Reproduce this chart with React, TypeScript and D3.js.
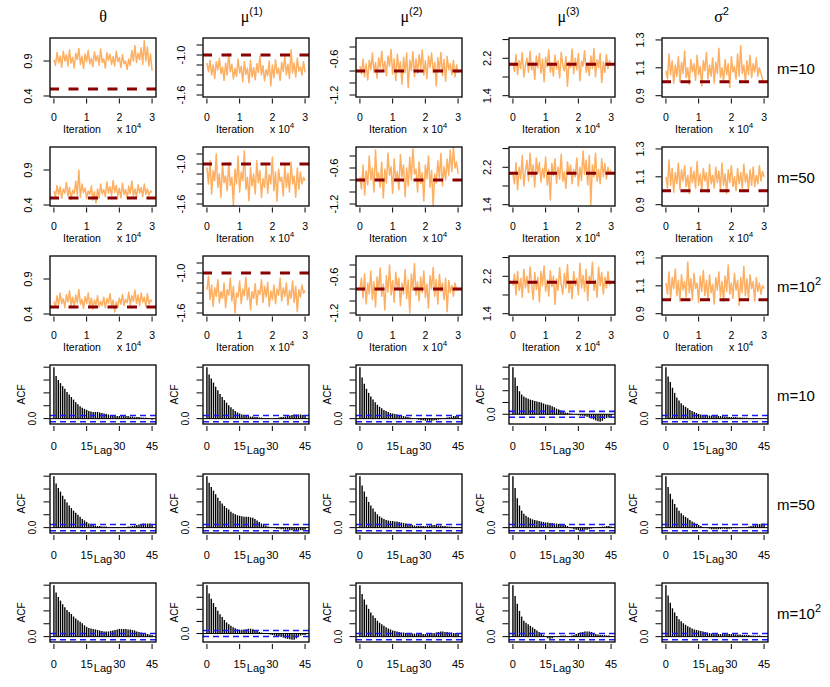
import React from "react";
import * as d3 from "d3";

// ---------- labels ----------
const paramSymbols = ["θ", "μ", "μ", "μ", "σ"];
const paramSups = ["", "(1)", "(2)", "(3)", "2"];
const rowMLabels = ["m=10", "m=50", "m=10", "m=10", "m=50", "m=10"];
const rowMSups = ["", "", "2", "", "", "2"];

// ---------- trace settings ----------
const nIter = 30000;
const iterTicks = [0, 10000, 20000, 30000];
const iterTickLabels = ["0", "1", "2", "3"];
const trueValues = [0.5, -1.0, -0.8, 2.07, 1.0];
const traceYDomains = [
  [0.3857, 1.2286],
  [-1.63, -0.745],
  [-1.233, -0.25],
  [1.372, 2.634],
  [0.8907, 1.314],
];
const traceYTicks = [
  [0.4, 0.9],
  [-1.6, -1.45, -1.3, -1.15, -1.0, -0.85],
  [-1.2, -1.0, -0.8, -0.6, -0.4],
  [1.4, 1.8, 2.2, 2.6],
  [0.9, 1.1, 1.3],
];
const traceYLabels = [
  [0.4, 0.9],
  [-1.6, -1.0],
  [-1.2, -0.6],
  [1.4, 2.2],
  [0.9, 1.1, 1.3],
];

// ---------- trace values (thinned chains) ----------
const thetaM10 = [0.92,0.84,1.02,0.88,0.97,0.81,1.04,0.9,0.99,0.83,1.06,0.87,0.95,0.8,1.01,0.92,1.08,0.85,0.97,0.79,1.0,0.89,1.05,0.86,0.94,0.82,1.03,0.9,0.98,0.84,1.07,0.88,0.93,0.8,1.02,0.91,1.0,0.85,0.96,0.83,1.04,0.89,0.95,0.81,0.99,0.86,0.9,0.78,0.93,0.84,1.05,0.9,1.12,0.88,1.01,0.92,1.09,0.85,1.19,0.9,1.1,0.83,1.0,0.76];
const mu1M10 = [-1.12,-1.25,-1.08,-1.3,-1.15,-1.35,-1.1,-1.22,-1.05,-1.28,-1.18,-1.38,-1.12,-1.3,-0.98,-1.25,-1.14,-1.36,-1.2,-1.32,-1.06,-1.27,-1.17,-1.4,-1.1,-1.29,-1.2,-1.42,-1.08,-1.33,-1.19,-1.37,-1.13,-1.26,-1.02,-1.3,-1.16,-1.39,-1.22,-1.31,-1.09,-1.46,-1.15,-1.34,-1.07,-1.28,-1.2,-1.38,-1.11,-1.25,-1.01,-1.3,-1.14,-1.35,-0.92,-1.27,-1.12,-1.33,-1.05,-1.24,-1.18,-1.3,-1.1,-1.26];
const mu2M10 = [-0.72,-0.85,-0.6,-0.9,-0.68,-0.95,-0.62,-0.78,-0.5,-0.82,-0.66,-0.92,-0.58,-0.75,-0.47,-0.8,-0.64,-0.88,-0.55,-0.72,-0.44,-0.85,-0.6,-0.96,-0.52,-0.78,-0.65,-1.02,-0.57,-0.83,-0.5,-1.08,-0.62,-0.79,-0.48,-0.9,-0.6,-0.84,-0.53,-0.76,-0.45,-0.87,-0.63,-0.93,-0.55,-0.74,-0.5,-0.82,-0.66,-1.05,-0.58,-0.8,-0.49,-0.88,-0.61,-0.97,-0.56,-0.78,-0.68,-0.86,-0.62,-0.9,-0.7,-0.83];
const mu3M10 = [2.1,1.92,2.28,1.85,2.15,1.98,2.32,1.8,2.05,2.2,1.9,2.35,1.95,2.12,1.75,2.25,2.0,2.3,1.88,2.18,1.7,2.22,2.02,2.38,1.9,2.1,1.82,2.27,1.97,2.15,1.78,2.33,2.05,1.93,2.24,1.6,2.12,2.0,2.4,1.87,2.2,1.95,2.3,1.72,2.14,2.03,2.36,1.9,2.1,1.83,2.25,1.98,2.41,1.8,2.17,2.0,2.3,1.68,2.12,1.9,2.28,1.98,2.15,2.05];
const sigma2M10 = [1.08,1.02,1.2,1.05,1.15,0.99,1.12,1.04,1.18,1.0,1.14,1.06,1.22,1.03,1.1,0.98,1.16,1.07,1.13,1.01,1.19,1.05,1.11,0.97,1.15,1.08,1.21,1.02,1.12,1.04,1.17,0.99,1.14,1.06,1.24,1.03,1.1,1.0,1.16,1.05,1.13,0.96,1.18,1.07,1.11,1.02,1.2,1.04,1.26,1.06,1.12,1.0,1.15,1.05,1.19,1.03,1.13,1.07,1.17,1.04,1.1,1.06,1.02,0.99];

const thetaM50 = [0.6,0.52,0.68,0.55,0.66,0.5,0.63,0.57,0.72,0.53,0.65,0.48,0.61,0.56,0.74,0.54,0.9,0.51,0.7,0.58,0.64,0.49,0.6,0.55,0.67,0.47,0.59,0.43,0.63,0.5,0.7,0.56,0.62,0.52,0.73,0.57,0.66,0.54,0.75,0.58,0.68,0.53,0.64,0.5,0.71,0.55,0.62,0.49,0.67,0.56,0.74,0.53,0.63,0.51,0.69,0.57,0.65,0.52,0.7,0.55,0.63,0.54,0.6,0.58];
const mu1M50 = [-1.05,-1.3,-0.95,-1.45,-1.1,-1.25,-0.85,-1.35,-1.15,-1.5,-1.0,-1.28,-1.18,-1.4,-0.98,-1.32,-1.2,-1.62,-1.08,-1.3,-0.88,-1.42,-1.12,-1.25,-0.8,-1.38,-1.2,-1.55,-1.05,-1.33,-1.15,-1.45,-0.95,-1.28,-1.1,-1.5,-1.22,-1.35,-1.02,-1.44,-1.16,-1.3,-0.9,-1.4,-1.12,-1.56,-1.08,-1.26,-1.2,-1.48,-1.0,-1.35,-1.14,-1.42,-0.97,-1.3,-1.18,-1.5,-1.06,-1.38,-1.12,-1.3,-1.2,-1.25];
const mu2M50 = [-0.75,-0.95,-0.55,-1.05,-0.65,-0.88,-0.4,-0.8,-0.6,-1.0,-0.3,-0.78,-0.68,-0.92,-0.5,-1.1,-0.62,-0.85,-0.35,-0.72,-0.58,-1.02,-0.45,-0.82,-0.66,-0.96,-0.38,-0.75,-0.55,-1.08,-0.6,-0.9,-0.42,-0.8,-0.28,-0.7,-0.62,-1.0,-0.5,-0.86,-0.68,-1.15,-0.55,-0.78,-0.4,-0.92,-0.64,-1.22,-0.7,-0.85,-0.48,-0.76,-0.36,-0.9,-0.58,-0.8,-0.45,-0.72,-0.3,-0.66,-0.26,-0.6,-0.5,-0.7];
const mu3M50 = [2.05,1.85,2.3,1.72,2.2,1.95,2.45,1.8,2.12,2.35,1.9,2.5,2.0,2.25,1.78,2.4,2.08,2.3,1.88,2.18,1.98,2.42,1.82,2.15,1.5,2.28,2.02,2.38,1.86,2.2,1.95,2.48,1.9,2.1,1.75,2.32,2.05,2.25,1.85,2.15,2.0,2.4,1.8,2.2,1.92,2.55,2.05,2.35,1.82,2.45,1.4,2.25,2.0,2.5,1.9,2.15,1.85,2.38,2.0,2.28,1.95,2.2,2.05,2.15];
const sigma2M50 = [1.1,1.02,1.22,1.04,1.16,0.99,1.13,1.05,1.2,1.01,1.15,1.07,1.18,1.03,1.11,0.98,1.17,1.06,1.14,1.02,1.21,1.04,1.12,1.0,1.16,1.07,1.13,0.99,1.19,1.05,1.11,1.02,1.17,1.06,1.14,1.01,1.2,1.04,1.12,0.98,1.15,1.06,1.18,1.03,1.1,1.0,1.16,1.05,1.13,1.02,1.19,1.06,1.12,1.01,1.15,1.04,1.17,1.03,1.11,1.05,1.18,1.07,1.14,1.1];

const thetaM100 = [0.58,0.5,0.66,0.53,0.7,0.55,0.62,0.49,0.68,0.57,0.73,0.52,0.64,0.5,0.67,0.56,0.75,0.54,0.61,0.48,0.65,0.55,0.7,0.51,0.63,0.47,0.6,0.53,0.66,0.5,0.58,0.52,0.64,0.49,0.62,0.55,0.69,0.51,0.6,0.43,0.57,0.5,0.63,0.54,0.68,0.52,0.61,0.56,0.71,0.53,0.66,0.58,0.74,0.55,0.67,0.52,0.7,0.57,0.64,0.51,0.69,0.54,0.6,0.58];
const mu1M100 = [-1.25,-1.05,-1.4,-1.18,-1.5,-1.22,-1.35,-1.1,-1.45,-1.28,-1.38,-1.15,-1.52,-1.25,-1.33,-1.08,-1.42,-1.2,-1.6,-1.3,-1.36,-1.12,-1.46,-1.24,-1.34,-1.06,-1.4,-1.22,-1.55,-1.28,-1.38,-1.16,-1.48,-1.26,-1.32,-1.1,-1.44,-1.2,-1.36,-1.14,-1.5,-1.27,-1.4,-1.18,-1.46,-1.24,-1.33,-1.08,-1.42,-1.22,-1.35,-1.15,-1.48,-1.26,-1.38,-1.12,-1.44,-1.2,-1.58,-1.25,-1.36,-1.18,-1.3,-1.26];
const mu2M100 = [-0.8,-0.62,-0.95,-0.55,-1.05,-0.7,-0.88,-0.5,-0.98,-0.68,-1.1,-0.6,-0.82,-0.45,-0.92,-0.72,-1.15,-0.58,-0.85,-0.4,-0.9,-0.66,-1.02,-0.52,-0.78,-0.62,-1.08,-0.7,-0.88,-0.48,-0.96,-0.65,-1.2,-0.55,-0.82,-0.38,-0.9,-0.68,-1.0,-0.6,-0.86,-0.5,-0.94,-0.72,-1.12,-0.58,-0.8,-0.44,-0.92,-0.64,-1.05,-0.56,-0.84,-0.7,-0.98,-0.62,-1.18,-0.66,-0.86,-0.74,-0.92,-0.7,-0.82,-0.78];
const mu3M100 = [2.0,2.25,1.8,2.3,1.9,2.15,1.75,2.35,1.95,2.2,1.85,2.4,2.05,1.7,2.28,1.92,2.18,1.65,2.3,2.0,2.42,1.88,2.12,1.78,2.32,1.98,2.2,1.6,2.15,1.9,2.38,2.02,1.82,2.26,1.95,2.45,1.85,2.1,1.72,2.3,2.0,2.15,1.8,2.48,1.95,2.22,1.88,2.35,1.68,2.2,2.05,2.5,1.9,2.12,1.75,2.4,2.0,2.28,1.82,2.18,1.95,2.3,2.02,2.1];
const sigma2M100 = [1.12,1.04,1.2,1.0,1.16,1.08,1.22,1.03,1.14,0.99,1.18,1.07,1.13,1.02,1.27,1.05,1.15,1.0,1.19,1.08,1.12,0.98,1.17,1.06,1.21,1.03,1.14,1.0,1.18,1.05,1.11,0.97,1.16,1.07,1.2,1.02,1.13,0.99,1.17,1.06,1.25,1.04,1.12,1.01,1.19,1.07,1.14,0.96,1.16,1.05,1.24,1.03,1.15,1.0,1.18,1.08,1.13,0.99,1.16,1.06,1.12,1.04,1.1,1.08];

const traceRows = [
  [thetaM10, mu1M10, mu2M10, mu3M10, sigma2M10],
  [thetaM50, mu1M50, mu2M50, mu3M50, sigma2M50],
  [thetaM100, mu1M100, mu2M100, mu3M100, sigma2M100],
];

// ---------- ACF values (lags 0..45) ----------
const lagTicks = [0, 15, 30, 45];
const acfYTicks = [0, 0.25, 0.5, 0.75, 1];
const ciBound = 0.062;

const acfThetaM10 = [1,.83,.75,.69,.63,.58,.52,.47,.42,.37,.32,.28,.24,.21,.19,.17,.15,.14,.13,.13,.13,.12,.11,.1,.09,.08,.07,.06,.06,.05,.05,.05,.05,.05,.05,.04,.04,.03,.03,.03,.02,.02,.02,.01,0,-.02];
const acfMu1M10 = [1,.86,.78,.7,.62,.55,.48,.42,.36,.31,.26,.22,.18,.15,.12,.1,.08,.07,.06,.05,.04,.04,.03,.03,.02,.02,.01,.01,.01,0,0,.01,.01,.02,.03,.03,.04,.05,.06,.07,.08,.08,.08,.08,.07,.06];
const acfMu2M10 = [1,.8,.68,.58,.5,.43,.37,.32,.27,.23,.2,.17,.15,.13,.11,.1,.09,.08,.07,.06,.05,.04,.03,.02,.01,0,-.01,-.02,-.03,-.03,-.04,-.04,-.04,-.04,-.03,-.03,-.02,-.01,0,.01,.02,.03,.04,.05,.05,.05];
const acfMu3M10 = [1,.78,.6,.49,.42,.38,.35,.33,.31,.3,.28,.27,.26,.25,.23,.21,.2,.19,.17,.15,.12,.1,.08,.06,.04,.03,.02,.01,0,-.01,-.02,-.03,-.03,-.04,-.05,-.07,-.09,-.11,-.13,-.15,-.16,-.14,-.1,-.08,-.07,-.08];
const acfSigma2M10 = [1,.82,.71,.6,.5,.41,.35,.3,.26,.23,.2,.17,.15,.13,.11,.09,.08,.07,.07,.06,.06,.06,.06,.06,.05,.05,.05,.04,.04,.03,.03,.03,.03,.02,.02,.02,.02,.02,.01,.01,.01,.01,.01,0,0,0];

const acfThetaM50 = [1,.86,.77,.7,.62,.55,.49,.43,.38,.33,.29,.25,.21,.17,.14,.11,.08,.06,.05,.04,.03,.03,.02,.02,.02,.01,.01,.01,.01,.01,.01,.01,.01,.01,.02,.02,.03,.04,.05,.06,.07,.08,.08,.08,.08,.07];
const acfMu1M50 = [1,.87,.79,.72,.65,.58,.52,.47,.42,.38,.35,.31,.28,.26,.24,.23,.22,.21,.21,.21,.2,.19,.17,.14,.11,.08,.06,.04,.02,.01,0,-.01,-.02,-.02,-.03,-.03,-.04,-.04,-.05,-.05,-.06,-.06,-.05,-.05,-.05,-.04];
const acfMu2M50 = [1,.82,.7,.6,.5,.43,.37,.31,.26,.22,.19,.17,.15,.14,.13,.13,.12,.12,.11,.1,.09,.08,.07,.06,.05,.04,.03,.03,.03,.03,.03,.04,.04,.05,.05,.05,.04,.04,.03,.03,.02,.02,.02,.01,.01,.01];
const acfMu3M50 = [1,.77,.57,.43,.33,.27,.23,.2,.18,.16,.15,.14,.13,.12,.11,.1,.1,.09,.09,.08,.08,.07,.07,.06,.05,.03,.01,-.01,-.03,-.04,-.05,-.05,-.05,-.04,-.04,-.03,-.02,-.01,0,.01,.01,.02,.02,.03,.03,.02];
const acfSigma2M50 = [1,.79,.66,.55,.46,.39,.33,.28,.24,.21,.18,.15,.12,.1,.07,.05,.03,.01,0,-.01,-.02,-.03,-.03,-.03,-.03,-.03,-.02,-.02,-.03,-.02,-.02,-.01,-.01,-.01,0,0,0,.01,.02,.03,.04,.05,.06,.07,.08,.08];

const acfThetaM100 = [1,.86,.77,.7,.63,.57,.52,.48,.44,.39,.35,.32,.29,.26,.22,.19,.17,.16,.15,.14,.13,.12,.11,.1,.1,.1,.11,.12,.13,.14,.15,.15,.15,.15,.14,.14,.13,.12,.1,.09,.08,.07,.06,.05,.04,.03];
const acfMu1M100 = [1,.83,.72,.63,.55,.47,.4,.34,.28,.23,.19,.16,.13,.11,.09,.08,.08,.08,.09,.1,.1,.09,.07,.05,.03,.02,.01,0,-.01,-.02,-.03,-.04,-.05,-.06,-.07,-.08,-.1,-.11,-.12,-.13,-.13,-.1,-.06,-.04,-.03,-.03];
const acfMu2M100 = [1,.83,.72,.62,.54,.47,.41,.36,.31,.27,.24,.21,.18,.16,.14,.12,.11,.1,.09,.08,.08,.07,.07,.06,.06,.06,.05,.05,.05,.05,.05,.06,.06,.07,.07,.08,.09,.1,.1,.09,.09,.08,.08,.07,.07,.06];
const acfMu3M100 = [1,.79,.64,.5,.39,.31,.27,.24,.21,.18,.15,.12,.09,.06,.03,0,-.03,-.04,-.03,-.01,0,.01,.02,.02,.02,.01,.01,.02,.03,.05,.07,.08,.09,.1,.1,.1,.09,.07,.05,.04,.03,.03,.03,.02,.02,.01];
const acfSigma2M100 = [1,.8,.66,.55,.47,.4,.34,.3,.26,.23,.2,.18,.16,.14,.13,.12,.11,.1,.09,.08,.07,.06,.06,.05,.05,.05,.05,.05,.05,.05,.05,.05,.04,.04,.04,.03,.03,.03,.03,.02,.02,.02,.02,.02,.01,.01];

const acfRows = [
  [acfThetaM10, acfMu1M10, acfMu2M10, acfMu3M10, acfSigma2M10],
  [acfThetaM50, acfMu1M50, acfMu2M50, acfMu3M50, acfSigma2M50],
  [acfThetaM100, acfMu1M100, acfMu2M100, acfMu3M100, acfSigma2M100],
];

// ---------- layout ----------
const W = 830;
const H = 687;
const colLeft = [50, 203, 356, 509, 662];
const rowTop = [38, 147, 256, 365, 474, 583];
const boxW = 106;
const boxH = 59;
const titleX = [103, 251.7, 411.5, 568.5, 721.5];
const sans = "'Liberation Sans', Arial, Helvetica, sans-serif";
const greek = "'Liberation Serif', 'DejaVu Serif', serif";
const traceColor = "#FDAF62";
const trueColor = "#8B0000";
const ciColor = "#1a1aff";

const fmt1 = (v: number) => v.toFixed(1);

function TracePanel({ r, c }: { r: number; c: number }) {
  const x0 = colLeft[c];
  const y0 = rowTop[r];
  const data = traceRows[r][c];
  const span = nIter - 1;
  const x = d3.scaleLinear().domain([1 - 0.04 * span, nIter + 0.04 * span]).range([x0, x0 + boxW]);
  const y = d3.scaleLinear().domain(traceYDomains[c]).range([y0 + boxH, y0]);
  const n = data.length;
  const line = d3
    .line<number>()
    .x((_, i) => x(1 + (i * span) / (n - 1)))
    .y((v) => y(v));
  const clipId = `clip-t-${r}-${c}`;
  const yb = y0 + boxH;
  return (
    <g>
      <defs>
        <clipPath id={clipId}>
          <rect x={x0} y={y0} width={boxW} height={boxH} />
        </clipPath>
      </defs>
      <g clipPath={`url(#${clipId})`}>
        <path d={line(data) || ""} fill="none" stroke={traceColor} strokeWidth={1.5} strokeLinejoin="round" />
        <line
          x1={x0 - 1}
          x2={x0 + boxW}
          y1={y(trueValues[c])}
          y2={y(trueValues[c])}
          stroke={trueColor}
          strokeWidth={3}
          strokeDasharray="10 9.5"
        />
      </g>
      <rect x={x0} y={y0} width={boxW} height={boxH} fill="none" stroke="#000" strokeWidth={1.3} />
      {traceYTicks[c].map((t) => (
        <line key={`yt${t}`} x1={x0 - 6.5} x2={x0 - 0.5} y1={y(t)} y2={y(t)} stroke="#000" strokeWidth={1} />
      ))}
      {traceYLabels[c].map((t) => (
        <text
          key={`yl${t}`}
          transform={`translate(${x0 - 18},${y(t)}) rotate(-90)`}
          textAnchor="middle"
          fontSize={11}
          fontFamily={sans}
        >
          {fmt1(t)}
        </text>
      ))}
      {iterTicks.map((t, i) => (
        <g key={`xt${t}`}>
          <line x1={x(t)} x2={x(t)} y1={yb + 1.5} y2={yb + 6.5} stroke="#000" strokeWidth={1} />
          <text x={x(t)} y={yb + 23.5} textAnchor="middle" fontSize={10.5} fontFamily={sans}>
            {iterTickLabels[i]}
          </text>
        </g>
      ))}
      <text x={x0 + 13} y={yb + 35.5} fontSize={10.5} fontFamily={sans}>
        Iteration
      </text>
      <text x={x0 + 67} y={yb + 35.5} fontSize={10.5} fontFamily={sans}>
        x 10
        <tspan dy={-5} fontSize={8}>
          4
        </tspan>
      </text>
    </g>
  );
}

function AcfPanel({ r, c }: { r: number; c: number }) {
  const x0 = colLeft[c];
  const y0 = rowTop[r + 3];
  const acf = acfRows[r][c];
  const x = d3.scaleLinear().domain([-1.8, 46.8]).range([x0, x0 + boxW]);
  const lo = Math.min(d3.min(acf) as number, -ciBound);
  const pad = 0.04 * (1 - lo);
  const y = d3.scaleLinear().domain([lo - pad, 1 + pad]).range([y0 + boxH, y0]);
  const yb = y0 + boxH;
  const clipId = `clip-a-${r}-${c}`;
  return (
    <g>
      <defs>
        <clipPath id={clipId}>
          <rect x={x0} y={y0} width={boxW} height={boxH} />
        </clipPath>
      </defs>
      <g clipPath={`url(#${clipId})`}>
        {acf.map((v, i) => (
          <line key={i} x1={x(i)} x2={x(i)} y1={y(0)} y2={y(v)} stroke="#000" strokeWidth={1.4} />
        ))}
        <line x1={x0} x2={x0 + boxW} y1={y(0)} y2={y(0)} stroke="#000" strokeWidth={1} />
        {[ciBound, -ciBound].map((b) => (
          <line
            key={b}
            x1={x0}
            x2={x0 + boxW}
            y1={y(b)}
            y2={y(b)}
            stroke={ciColor}
            strokeWidth={1.6}
            strokeDasharray="6 4"
          />
        ))}
      </g>
      <rect x={x0} y={y0} width={boxW} height={boxH} fill="none" stroke="#000" strokeWidth={1.3} />
      {acfYTicks.map((t) => (
        <line key={`yt${t}`} x1={x0 - 6.5} x2={x0 - 0.5} y1={y(t)} y2={y(t)} stroke="#000" strokeWidth={1} />
      ))}
      <text
        transform={`translate(${x0 - 14},${y(0)}) rotate(-90)`}
        textAnchor="middle"
        fontSize={10}
        fontFamily={sans}
      >
        0.0
      </text>
      <text
        transform={`translate(${x0 - 25},${y0 + boxH / 2}) rotate(-90)`}
        textAnchor="middle"
        fontSize={10}
        fontFamily={sans}
      >
        ACF
      </text>
      {lagTicks.map((t) => (
        <g key={`xt${t}`}>
          <line x1={x(t)} x2={x(t)} y1={yb + 2} y2={yb + 7} stroke="#000" strokeWidth={1} />
          <text x={x(t)} y={yb + 25.5} textAnchor="middle" fontSize={11} fontFamily={sans}>
            {t}
          </text>
        </g>
      ))}
      <text x={x0 + boxW / 2} y={yb + 29.5} textAnchor="middle" fontSize={11} fontFamily={sans}>
        Lag
      </text>
    </g>
  );
}

export default function App() {
  return (
    <svg
      width={W}
      height={H}
      viewBox={`0 0 ${W} ${H}`}
      style={{ position: "absolute", left: 0, top: 0, background: "#fff" }}
    >
      <rect x={0} y={0} width={W} height={H} fill="#fff" />
      {paramSymbols.map((s, c) => (
        <text key={`title${c}`} x={titleX[c]} y={22} textAnchor="middle" fontSize={16} fontFamily={greek}>
          {s}
          {paramSups[c] && (
            <tspan dy={-7} fontSize={11} fontFamily={sans}>
              {paramSups[c]}
            </tspan>
          )}
        </text>
      ))}
      {[0, 1, 2].map((r) => [0, 1, 2, 3, 4].map((c) => <TracePanel key={`t${r}${c}`} r={r} c={c} />))}
      {[0, 1, 2].map((r) => [0, 1, 2, 3, 4].map((c) => <AcfPanel key={`a${r}${c}`} r={r} c={c} />))}
      {rowMLabels.map((lab, i) => (
        <text key={`m${i}`} x={777} y={rowTop[i] + boxH / 2 + 6.5} fontSize={15} fontFamily={sans}>
          {lab}
          {rowMSups[i] && (
            <tspan dy={-7} fontSize={11}>
              {rowMSups[i]}
            </tspan>
          )}
        </text>
      ))}
    </svg>
  );
}
